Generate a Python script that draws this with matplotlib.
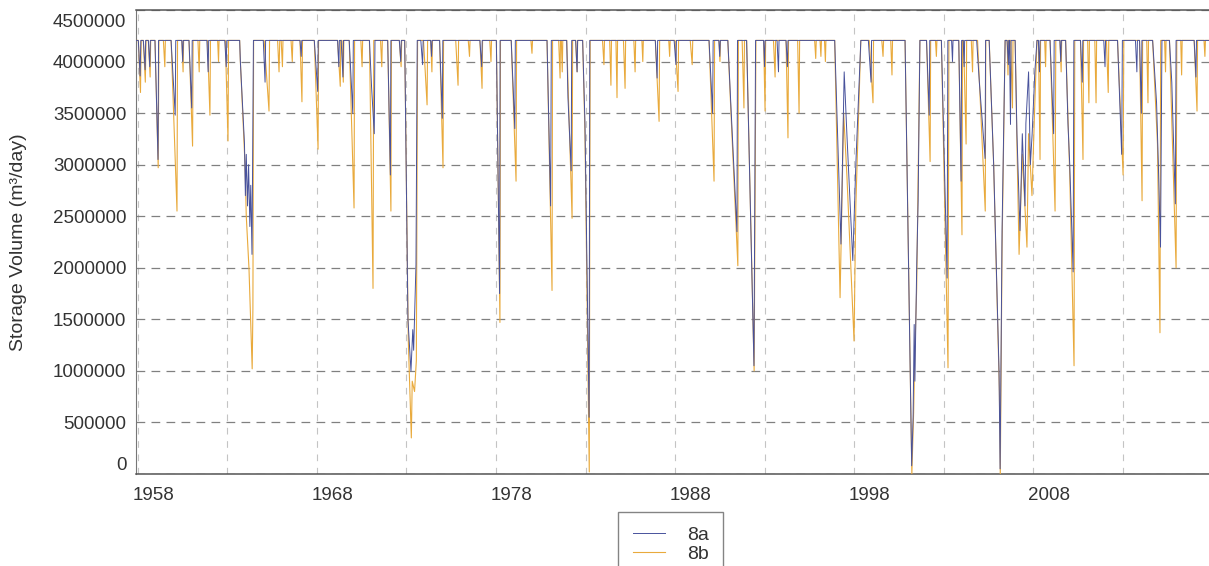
import matplotlib
matplotlib.use('Agg')
import matplotlib.pyplot as plt
import matplotlib.transforms as mtrans

# full supply level of the storage (m3)
FULL = 4.205e6
F = FULL

# storage trace for scenario 8a, vertices (decimal year, volume)
pts_8a = [
    (1957.85, F),
    (1958.02, F), (1958.12, 3.86e6), (1958.16, F),
    (1958.30, F), (1958.40, 3.92e6), (1958.43, F),
    (1958.58, F), (1958.66, 3.95e6), (1958.69, F),
    (1958.95, F), (1959.12, 3.05e6), (1959.15, F),
    (1959.85, F), (1960.08, 3.48e6), (1960.11, F),
    (1960.45, F), (1960.50, 4.00e6), (1960.53, F),
    (1960.85, F), (1961.00, 3.55e6), (1961.03, F),
    (1961.85, F), (1961.92, 3.90e6), (1961.95, F),
    (1962.85, F), (1962.93, 3.95e6), (1962.96, F),
    (1963.68, F), (1963.72, 4.00e6), (1963.95, 3.20e6), (1964.00, 2.70e6), (1964.05, 3.10e6),
    (1964.12, 2.60e6), (1964.18, 3.00e6), (1964.25, 2.40e6), (1964.30, 2.80e6), (1964.37, 2.13e6), (1964.45, F),
    (1965.00, F), (1965.10, 3.80e6), (1965.13, F),
    (1967.05, F), (1967.12, 4.05e6), (1967.15, F),
    (1967.85, F), (1968.04, 3.71e6), (1968.07, F),
    (1969.15, F), (1969.22, 3.95e6), (1969.25, F), (1969.35, F), (1969.45, 3.85e6), (1969.48, F),
    (1969.80, F), (1970.00, 3.50e6), (1970.03, F),
    (1970.93, F), (1971.05, 3.75e6), (1971.20, 3.30e6), (1971.24, F),
    (1971.95, F), (1972.10, 2.90e6), (1972.13, F),
    (1972.60, F), (1972.68, 4.00e6), (1972.71, F),
    (1972.90, F), (1973.08, 1.50e6), (1973.25, 1.00e6), (1973.35, 1.40e6), (1973.40, 1.20e6),
    (1973.53, 2.03e6), (1973.60, F),
    (1973.80, F), (1973.90, 3.97e6), (1973.93, F),
    (1974.35, F), (1974.40, 4.05e6), (1974.43, F),
    (1974.85, F), (1975.00, 3.45e6), (1975.03, F),
    (1977.10, F), (1977.20, 3.95e6), (1977.23, F),
    (1978.02, F), (1978.20, 1.75e6), (1978.23, F),
    (1978.85, F), (1979.05, 3.35e6), (1979.08, F),
    (1980.85, F), (1981.05, 2.60e6), (1981.09, F),
    (1981.95, F), (1982.02, 3.65e6), (1982.20, 2.94e6), (1982.23, F),
    (1982.45, F), (1982.53, 3.90e6), (1982.56, F),
    (1982.84, F), (1982.97, 3.40e6), (1983.20, 0.55e6), (1983.24, F),
    (1986.90, F), (1987.00, 3.84e6), (1987.03, F),
    (1987.95, F), (1988.05, 3.97e6), (1988.08, F),
    (1989.90, F), (1990.10, 3.50e6), (1990.13, F),
    (1990.45, F), (1990.50, 4.05e6), (1990.53, F),
    (1990.95, F), (1991.10, 3.65e6), (1991.46, 2.35e6), (1991.49, F),
    (1992.00, F), (1992.41, 1.05e6), (1992.50, F),
    (1992.95, F), (1993.00, 3.95e6), (1993.03, F),
    (1993.70, F), (1993.78, 3.90e6), (1993.81, F),
    (1994.20, F), (1994.28, 3.95e6), (1994.31, F),
    (1996.92, F), (1997.27, 2.23e6), (1997.45, 3.90e6), (1997.60, 3.30e6), (1997.93, 2.07e6),
    (1998.10, 3.00e6), (1998.38, F),
    (1998.80, F), (1998.95, 3.80e6), (1998.98, F),
    (2000.85, F), (2001.22, 0.08e6), (2001.30, 0.55e6), (2001.36, 1.45e6), (2001.40, 0.90e6),
    (2001.50, 2.00e6), (2001.58, 2.65e6), (2001.68, F),
    (2002.05, F), (2002.20, 3.48e6), (2002.23, F),
    (2002.88, F), (2003.20, 1.90e6), (2003.24, F),
    (2003.45, F), (2003.50, 4.00e6), (2003.53, F),
    (2003.85, F), (2003.98, 2.84e6), (2004.01, F), (2004.10, F), (2004.15, 3.95e6), (2004.18, F),
    (2004.85, F), (2005.00, 3.80e6), (2005.32, 3.06e6), (2005.35, F),
    (2005.55, F), (2005.80, 3.00e6), (2006.10, 1.00e6), (2006.16, 0.05e6), (2006.27, 2.37e6), (2006.44, F),
    (2006.55, F), (2006.62, 3.97e6), (2006.65, F), (2006.68, F), (2006.74, 3.39e6), (2006.77, F),
    (2007.00, F), (2007.10, 3.30e6), (2007.27, 2.36e6), (2007.40, 3.30e6), (2007.55, 2.60e6),
    (2007.60, 3.40e6), (2007.75, 3.90e6), (2007.85, 3.00e6), (2007.95, 3.30e6), (2008.10, 3.90e6), (2008.22, F),
    (2008.30, F), (2008.36, 3.90e6), (2008.39, F),
    (2008.95, F), (2009.15, 3.30e6), (2009.18, F),
    (2009.50, F), (2009.55, 4.00e6), (2009.58, F),
    (2009.82, F), (2009.95, 3.40e6), (2010.05, 3.00e6), (2010.24, 1.96e6), (2010.28, F),
    (2010.65, F), (2010.75, 3.80e6), (2010.78, F),
    (2011.95, F), (2012.02, 3.95e6), (2012.05, F),
    (2012.72, F), (2012.95, 3.10e6), (2012.99, F),
    (2013.72, F), (2013.80, 3.90e6), (2013.83, F),
    (2013.95, F), (2014.05, 3.50e6), (2014.08, F),
    (2014.68, F), (2014.90, 3.60e6), (2015.00, 3.00e6), (2015.12, 2.20e6), (2015.20, F),
    (2015.62, F), (2015.75, 3.80e6), (2015.95, 2.62e6), (2015.99, F),
    (2017.00, F), (2017.10, 3.85e6), (2017.13, F),
    (2018.30, F),
]

# storage trace for scenario 8b
pts_8b = [
    (1957.85, F),
    (1958.02, F), (1958.14, 3.70e6), (1958.18, F),
    (1958.30, F), (1958.41, 3.80e6), (1958.45, F),
    (1958.58, F), (1958.68, 3.85e6), (1958.71, F),
    (1958.95, F), (1959.13, 2.97e6), (1959.17, F),
    (1959.42, F), (1959.50, 3.95e6), (1959.53, F),
    (1959.85, F), (1960.18, 2.55e6), (1960.21, F),
    (1960.45, F), (1960.52, 3.90e6), (1960.55, F),
    (1960.85, F), (1961.05, 3.18e6), (1961.08, F),
    (1961.35, F), (1961.42, 3.90e6), (1961.45, F),
    (1961.88, F), (1962.02, 3.48e6), (1962.05, F),
    (1962.45, F), (1962.50, 4.00e6), (1962.53, F),
    (1962.88, F), (1963.03, 3.23e6), (1963.06, F),
    (1963.68, F), (1963.72, 4.00e6), (1963.98, 3.00e6), (1964.05, 2.50e6), (1964.20, 2.00e6),
    (1964.38, 1.02e6), (1964.42, 1.60e6), (1964.46, F),
    (1965.05, F), (1965.32, 3.52e6), (1965.35, F),
    (1965.80, F), (1965.88, 3.90e6), (1965.92, F), (1966.00, F), (1966.07, 3.95e6), (1966.10, F),
    (1966.55, F), (1966.62, 4.00e6), (1966.65, F),
    (1967.05, F), (1967.16, 3.61e6), (1967.19, F),
    (1967.85, F), (1968.06, 3.15e6), (1968.09, F),
    (1969.15, F), (1969.30, 3.76e6), (1969.33, F), (1969.40, F), (1969.47, 3.80e6), (1969.50, F),
    (1969.80, F), (1970.07, 2.58e6), (1970.10, F),
    (1970.45, F), (1970.52, 3.95e6), (1970.55, F),
    (1970.93, F), (1971.13, 1.80e6), (1971.17, F),
    (1971.55, F), (1971.62, 3.95e6), (1971.65, F),
    (1971.95, F), (1972.13, 2.55e6), (1972.16, F),
    (1972.60, F), (1972.70, 3.95e6), (1972.73, F),
    (1972.90, F), (1973.10, 1.30e6), (1973.27, 0.35e6), (1973.32, 0.90e6), (1973.45, 0.80e6),
    (1973.55, 1.10e6), (1973.62, F),
    (1973.95, F), (1974.15, 3.58e6), (1974.18, F),
    (1974.35, F), (1974.42, 3.90e6), (1974.45, F),
    (1974.85, F), (1975.04, 2.97e6), (1975.07, F),
    (1975.75, F), (1975.88, 3.77e6), (1975.91, F),
    (1976.45, F), (1976.52, 4.05e6), (1976.55, F),
    (1977.10, F), (1977.22, 3.74e6), (1977.25, F),
    (1977.65, F), (1977.72, 4.00e6), (1977.75, F),
    (1978.02, F), (1978.22, 1.47e6), (1978.25, F),
    (1978.85, F), (1979.12, 2.84e6), (1979.15, F),
    (1979.95, F), (1980.01, 4.08e6), (1980.04, F),
    (1980.85, F), (1981.13, 1.78e6), (1981.16, F),
    (1981.50, F), (1981.58, 3.84e6), (1981.60, F), (1981.65, F), (1981.70, 3.90e6), (1981.73, F),
    (1981.95, F), (1982.25, 2.48e6), (1982.28, F),
    (1982.45, F), (1982.53, 3.90e6), (1982.56, F),
    (1982.84, F), (1982.97, 3.30e6), (1983.21, 0.02e6), (1983.26, F),
    (1983.95, F), (1984.03, 3.97e6), (1984.06, F),
    (1984.35, F), (1984.42, 3.77e6), (1984.45, F),
    (1984.70, F), (1984.76, 3.65e6), (1984.79, F),
    (1985.12, F), (1985.21, 3.74e6), (1985.24, F),
    (1985.70, F), (1985.77, 3.90e6), (1985.80, F),
    (1986.15, F), (1986.20, 4.00e6), (1986.23, F),
    (1986.90, F), (1987.11, 3.42e6), (1987.14, F),
    (1987.65, F), (1987.70, 4.05e6), (1987.73, F),
    (1988.00, F), (1988.17, 3.71e6), (1988.20, F),
    (1988.85, F), (1988.96, 3.97e6), (1988.99, F),
    (1989.90, F), (1990.18, 2.84e6), (1990.21, F),
    (1990.45, F), (1990.51, 4.00e6), (1990.54, F),
    (1990.95, F), (1991.10, 3.60e6), (1991.51, 2.02e6), (1991.54, F),
    (1991.75, F), (1991.85, 3.55e6), (1991.88, F),
    (1992.00, F), (1992.42, 1.00e6), (1992.52, F),
    (1992.95, F), (1993.03, 3.52e6), (1993.06, F),
    (1993.50, F), (1993.59, 3.85e6), (1993.62, F),
    (1994.20, F), (1994.31, 3.26e6), (1994.34, F),
    (1994.85, F), (1994.93, 3.50e6), (1994.96, F),
    (1995.80, F), (1995.86, 4.03e6), (1995.89, F),
    (1996.10, F), (1996.15, 4.05e6), (1996.18, F),
    (1996.35, F), (1996.40, 4.00e6), (1996.43, F),
    (1996.92, F), (1997.22, 1.71e6), (1997.42, 3.50e6), (1997.60, 2.90e6), (1998.00, 1.29e6),
    (1998.10, 2.60e6), (1998.38, F),
    (1998.85, F), (1999.06, 3.60e6), (1999.09, F),
    (1999.55, F), (1999.62, 4.05e6), (1999.65, F),
    (2000.05, F), (2000.12, 3.87e6), (2000.15, F),
    (2000.85, F), (2001.23, 0.00e6), (2001.33, 0.60e6), (2001.40, 1.20e6), (2001.50, 1.80e6), (2001.68, F),
    (2002.05, F), (2002.25, 3.03e6), (2002.28, F),
    (2002.55, F), (2002.60, 4.05e6), (2002.63, F),
    (2002.88, F), (2003.25, 1.03e6), (2003.30, F),
    (2003.85, F), (2004.03, 2.32e6), (2004.06, F), (2004.12, F), (2004.26, 3.20e6), (2004.29, F),
    (2004.55, F), (2004.62, 3.90e6), (2004.65, F),
    (2004.90, F), (2005.33, 2.55e6), (2005.36, F),
    (2005.55, F), (2005.80, 3.00e6), (2006.12, 0.80e6), (2006.17, 0.00e6), (2006.27, 2.20e6), (2006.44, F),
    (2006.55, F), (2006.60, 3.87e6), (2006.63, F), (2006.75, F), (2006.85, 3.55e6), (2006.88, F),
    (2007.00, F), (2007.10, 3.20e6), (2007.22, 2.13e6), (2007.40, 3.10e6), (2007.66, 2.20e6),
    (2007.75, 3.30e6), (2007.94, 2.70e6), (2008.10, 3.60e6), (2008.22, F),
    (2008.30, F), (2008.39, 3.05e6), (2008.42, F),
    (2008.65, F), (2008.70, 3.95e6), (2008.73, F),
    (2008.95, F), (2009.23, 2.55e6), (2009.27, F),
    (2009.50, F), (2009.57, 3.90e6), (2009.60, F),
    (2009.82, F), (2010.05, 2.90e6), (2010.29, 1.05e6), (2010.33, F),
    (2010.65, F), (2010.79, 3.05e6), (2010.82, F),
    (2011.05, F), (2011.12, 3.60e6), (2011.15, F),
    (2011.45, F), (2011.52, 3.60e6), (2011.55, F),
    (2012.10, F), (2012.20, 3.70e6), (2012.23, F),
    (2012.72, F), (2013.03, 2.90e6), (2013.07, F),
    (2013.95, F), (2014.09, 2.65e6), (2014.12, F),
    (2014.35, F), (2014.42, 3.60e6), (2014.45, F),
    (2014.68, F), (2014.95, 3.20e6), (2015.09, 1.37e6), (2015.13, F),
    (2015.35, F), (2015.40, 3.90e6), (2015.43, F),
    (2015.62, F), (2015.99, 2.00e6), (2016.03, F),
    (2016.25, F), (2016.30, 3.87e6), (2016.33, F),
    (2017.00, F), (2017.16, 3.52e6), (2017.19, F),
    (2017.55, F), (2017.60, 4.05e6), (2017.63, F),
    (2018.30, F),
]

year_ticks = [1958, 1968, 1978, 1988, 1998, 2008]
year_grid = [1963, 1973, 1983, 1993, 2003, 2013]
vol_ticks = [0, 500000, 1000000, 1500000, 2000000, 2500000, 3000000, 3500000, 4000000, 4500000]

plt.rcParams['font.family'] = ['Liberation Sans', 'DejaVu Sans']
txt = '#333333'

fig = plt.figure(figsize=(12.09, 5.66), dpi=100)
# right edge of the axes lies just outside the picture, as in the original
ax = fig.add_axes([136 / 1209, 92 / 566, 1080 / 1209, 464 / 566])

t_a, v_a = zip(*pts_8a)
t_b, v_b = zip(*pts_8b)
lb, = ax.plot(t_b, v_b, color='#e9aa3c', lw=0.8, label='8b', zorder=3)
la, = ax.plot(t_a, v_a, color='#48529c', lw=0.7, label='8a', zorder=4)

ax.set_xlim(1957.89, 2018.22)
ax.set_ylim(0, 4500000)

ax.set_xticks(year_ticks)
ax.set_xticklabels([str(y) for y in year_ticks])
ax.set_xticks(year_grid, minor=True)
ax.set_yticks(vol_ticks)
ax.set_yticklabels([str(v) for v in vol_ticks])

ax.tick_params(axis='both', which='both', length=0, labelsize=13.5, labelcolor=txt)
ax.tick_params(axis='y', pad=7)
ax.tick_params(axis='x', pad=9)

ax.grid(axis='x', which='both', color='#c4c4c4', lw=0.8, linestyle=(0, (6, 6)))
ax.grid(axis='y', which='major', color='#808080', lw=0.9, linestyle=(0, (7, 5)))
ax.set_axisbelow(True)

# x labels start at the tick, a little to its left
shift = mtrans.ScaledTranslation(-5 / 100, 0, fig.dpi_scale_trans)
for lab in ax.get_xticklabels():
    lab.set_horizontalalignment('left')
    lab.set_transform(lab.get_transform() + shift)

ylabs = ax.get_yticklabels()
ylabs[0].set_verticalalignment('bottom')
ylabs[-1].set_verticalalignment('top')
ylabs[-1].set_transform(ylabs[-1].get_transform()
                        + mtrans.ScaledTranslation(0, -4 / 100, fig.dpi_scale_trans))

for side in ['top', 'bottom']:
    ax.spines[side].set_color('#555555')
    ax.spines[side].set_linewidth(1.1)
ax.spines['left'].set_color('#777777')
ax.spines['right'].set_visible(False)

ax.set_ylabel('Storage Volume (m³/day)', fontsize=14, color=txt)
ax.yaxis.set_label_coords(-0.101, 0.5)

leg = fig.legend([la, lb], ['8a', '8b'], loc='upper left',
                 bbox_to_anchor=(618 / 1209, 1 - 512 / 566),
                 fontsize=14, frameon=True, fancybox=False,
                 handlelength=1.65, handletextpad=1.15, labelspacing=0.05,
                 borderpad=0.75, borderaxespad=0)
leg.get_frame().set_edgecolor('#666666')
leg.get_frame().set_linewidth(1.0)
for t in leg.get_texts():
    t.set_color(txt)

fig.savefig('out.png', dpi=100)
